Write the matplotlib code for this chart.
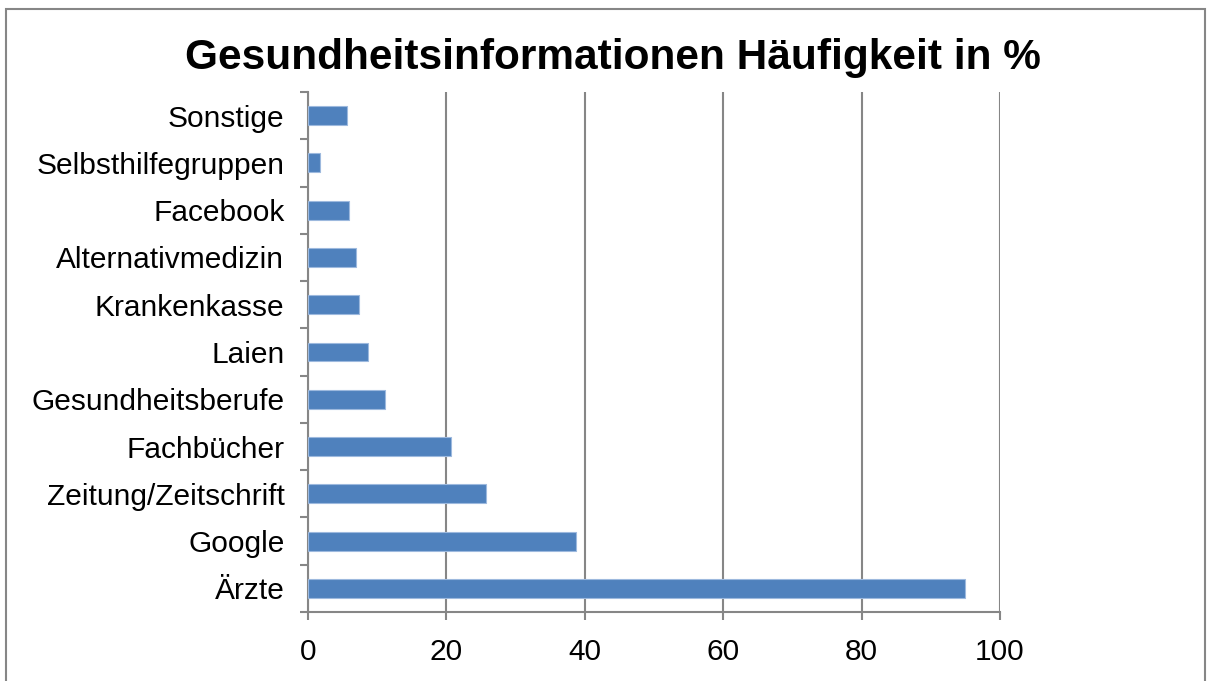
import matplotlib
matplotlib.use('Agg')
import matplotlib.pyplot as plt
from matplotlib.patches import Rectangle

plt.rcParams['font.family'] = ['Liberation Sans', 'DejaVu Sans']

# Werte von oben nach unten wie im Bild
kategorien = ['Sonstige', 'Selbsthilfegruppen', 'Facebook', 'Alternativmedizin',
              'Krankenkasse', 'Laien', 'Gesundheitsberufe', 'Fachbücher',
              'Zeitung/Zeitschrift', 'Google', 'Ärzte']
werte = [5.6, 1.7, 5.9, 7.0, 7.3, 8.7, 11.1, 20.7, 25.7, 38.7, 95.0]
xticks = [0, 20, 40, 60, 80, 100]

grau = '#868686'
blau = '#4F81BD'

fig = plt.figure(figsize=(12.08, 6.81), dpi=100)
ax = fig.add_axes([308/1208, 1-612/681, (1000-308)/1208, (612-92)/681])

# unten beginnt Ärzte -> Reihenfolge umdrehen
ypos = list(range(len(kategorien)))
ax.barh(ypos, werte[::-1], height=0.4, color=blau, edgecolor='#9DB9DE', linewidth=0.8, zorder=3)
ax.set_yticks(ypos)
ax.set_yticklabels(kategorien[::-1])
ax.set_ylim(-0.5, len(kategorien)-0.5)
ax.set_xlim(0, 100)
ax.set_xticks(xticks)

# Kategorie-Striche an den Grenzen
ax.set_yticks([i-0.5 for i in range(len(kategorien)+1)], minor=True)
ax.tick_params(axis='y', which='major', length=0, pad=17, labelsize=21.5)
ax.tick_params(axis='y', which='minor', length=6, width=1.5, color=grau, direction='out')
ax.tick_params(axis='x', length=6, width=1.5, color=grau, pad=13, labelsize=21.5)

ax.grid(axis='x', color=grau, linewidth=1.5, zorder=0)
for s in ['top', 'right']:
    ax.spines[s].set_visible(False)
for s in ['left', 'bottom']:
    ax.spines[s].set_color(grau)
    ax.spines[s].set_linewidth(1.5)

fig.text(0.507, 0.915, 'Gesundheitsinformationen Häufigkeit in %', ha='center', va='center',
         fontsize=30.5, fontweight='bold')

# Rahmen ums Diagramm
fig.patches.append(Rectangle((6/1208, -0.05), 1199/1208, 1.05-9/681, transform=fig.transFigure,
                             fill=False, edgecolor=grau, linewidth=1.5))

fig.savefig('out.png', dpi=100)
